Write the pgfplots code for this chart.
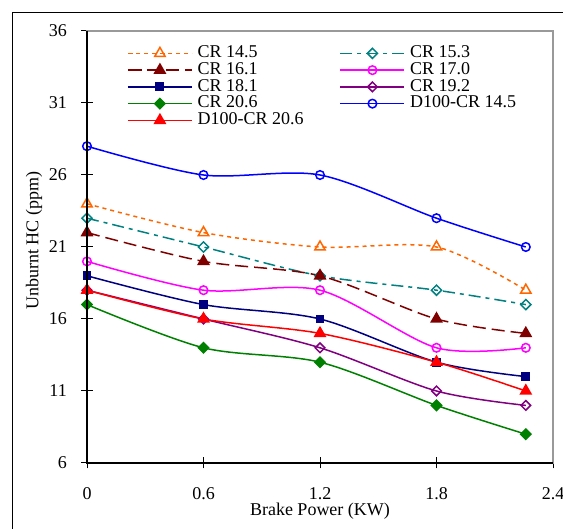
\documentclass[border=0pt]{standalone}
\usepackage{fontspec}
\setmainfont{Liberation Serif}
\usepackage{pgfplots}
\pgfplotsset{compat=1.18}

\definecolor{cOrange}{HTML}{FF6600}
\definecolor{cTeal}{HTML}{008080}
\definecolor{cMaroon}{HTML}{800000}
\definecolor{cMagenta}{HTML}{FF00FF}
\definecolor{cNavy}{HTML}{000080}
\definecolor{cPurple}{HTML}{800080}
\definecolor{cGreen}{HTML}{008000}
\definecolor{cBlue}{HTML}{0000FF}
\definecolor{cRed}{HTML}{FF0000}

\newcommand{\bigfont}{\fontsize{18}{18}\selectfont}

\begin{document}
\begin{tikzpicture}[x=1pt,y=1pt]
\useasboundingbox (0,0) rectangle (563,529);
% outer chart frame (only left and top edges fall inside the picture)
\draw[line width=1pt] (12.5,0) -- (12.5,516.5) -- (563,516.5);
\begin{axis}[
  name=ax,
  at={(87pt,66pt)}, anchor=south west,
  width=466pt, height=432pt, scale only axis,
  xmin=0, xmax=2.4, ymin=6, ymax=36,
  xtick={0,0.6,1.2,1.8,2.4},
  ytick={6,11,16,21,26,31,36},
  xticklabels={0,0.6,1.2,1.8,2.4},
  tick align=center,
  major tick length=11pt,
  xtick pos=bottom, ytick pos=left,
  tick style={black, line width=1pt},
  axis line style={gray!80, line width=1.5pt},
  /pgf/number format/assume math mode=true,
  ticklabel style={font=\bigfont},
  xticklabel style={anchor=base, yshift=-31pt, inner sep=0pt},
  yticklabel style={anchor=east, xshift=-14.5pt, inner sep=0pt},
  every axis x label/.style={at={(axis description cs:0.5,0)}, anchor=base, yshift=-53pt, font=\bigfont},
  every axis y label/.style={at={(axis description cs:-0.1137,0.514)}, anchor=center, rotate=90, font=\bigfont},
  xlabel={Brake Power (KW)},
  ylabel={Unburnt HC (ppm)},
  legend columns=2,
  legend cell align=left,
  legend style={at={(axis description cs:0.0858,0.968)}, anchor=north west,
    draw=none, fill=none, inner sep=0pt, font=\bigfont, row sep=0pt,
    nodes={inner sep=0pt, text height=12.7pt, text depth=4.05pt},
    /tikz/every odd column/.append style={column sep=5pt},
    /tikz/every even column/.append style={column sep=36pt}},
  legend image code/.code={\draw[mark repeat=2, mark phase=2] plot coordinates {(0pt,0pt) (32pt,0pt) (64pt,0pt)};},
  every axis plot/.append style={line width=1.5pt, smooth, tension=0.5},
]
\addplot[cOrange, dash pattern=on 4pt off 4pt, mark=triangle, mark size=6pt, mark options={solid, fill=white}]
  coordinates {(0,24) (0.6,22) (1.2,21) (1.8,21) (2.26,18)};
\addlegendentry{CR 14.5}
\addplot[cTeal, dash pattern=on 12pt off 5pt on 4pt off 5pt, mark=square, mark size=3.6pt, mark options={solid, fill=white, rotate=45}]
  coordinates {(0,23) (0.6,21) (1.2,19) (1.8,18) (2.26,17)};
\addlegendentry{CR 15.3}
\addplot[cMaroon, dash pattern=on 13pt off 6pt, mark=triangle*, mark size=6pt, mark options={solid}]
  coordinates {(0,22) (0.6,20) (1.2,19) (1.8,16) (2.26,15)};
\addlegendentry{CR 16.1}
\addplot[cMagenta, mark=o, mark size=4.3pt, mark options={solid, fill=white}]
  coordinates {(0,20) (0.6,18) (1.2,18) (1.8,14) (2.26,14)};
\addlegendentry{CR 17.0}
\addplot[cNavy, mark=square*, mark size=3.7pt, mark options={solid}]
  coordinates {(0,19) (0.6,17) (1.2,16) (1.8,13) (2.26,12)};
\addlegendentry{CR 18.1}
\addplot[cPurple, mark=square, mark size=3.4pt, mark options={solid, fill=white, rotate=45}]
  coordinates {(0,18) (0.6,16) (1.2,14) (1.8,11) (2.26,10)};
\addlegendentry{CR 19.2}
\addplot[cGreen, mark=square*, mark size=3.6pt, mark options={solid, rotate=45}]
  coordinates {(0,17) (0.6,14) (1.2,13) (1.8,10) (2.26,8)};
\addlegendentry{CR 20.6}
\addplot[cBlue, mark=o, mark size=4.3pt, mark options={solid, fill=white}]
  coordinates {(0,28) (0.6,26) (1.2,26) (1.8,23) (2.26,21)};
\addlegendentry{D100-CR 14.5}
\addplot[cRed, mark=triangle*, mark size=6pt, mark options={solid}]
  coordinates {(0,18) (0.6,16) (1.2,15) (1.8,13) (2.26,11)};
\addlegendentry{D100-CR 20.6}
\end{axis}
% black left and bottom axis lines
\draw[black, line width=1.8pt] (ax.north west) -- (ax.south west) -- (ax.south east);
\end{tikzpicture}
\end{document}
